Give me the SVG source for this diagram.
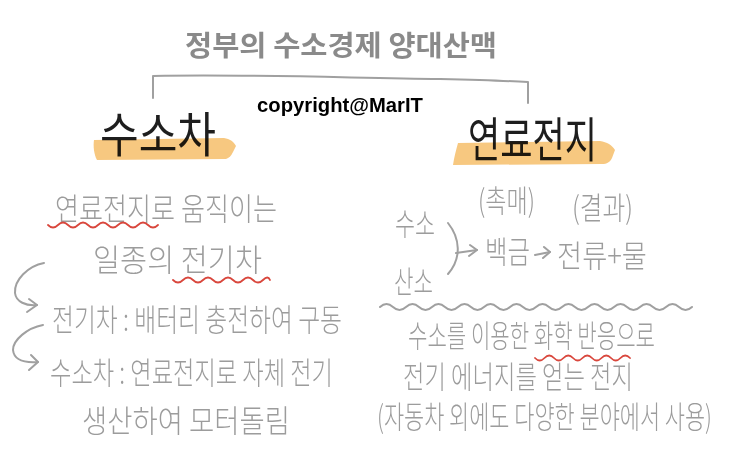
<svg xmlns="http://www.w3.org/2000/svg" width="751" height="464" viewBox="0 0 751 464">
<style>
.t{font-family:"Noto Sans CJK KR","Noto Sans",sans-serif;}
.title{font-weight:700;fill:#8a8a8a;font-size:28px;}
.head{font-weight:400;fill:#1e1e1e;font-size:48px;}
.hand{font-weight:300;fill:#9c9c9c;font-size:31px;}
.copy{font-family:"Liberation Sans",Arial,sans-serif;font-weight:700;font-size:20.5px;fill:#000;}
.ln{fill:none;stroke:#a0a0a0;stroke-width:2;stroke-linecap:round;stroke-linejoin:round;}
.red{fill:none;stroke:#d9473d;stroke-width:1.8;stroke-linecap:round;}
.hl{fill:#f7c880;mix-blend-mode:multiply;}
</style>
<rect width="751" height="464" fill="#fff"/>

<g id="title">
<text class="t title" x="185" y="56" textLength="312" lengthAdjust="spacingAndGlyphs">정부의 수소경제 양대산맥</text>
</g>

<g id="copyright">
<text class="copy" x="257" y="112" textLength="166" lengthAdjust="spacingAndGlyphs">copyright@MarIT</text>
</g>

<g id="connectors">
<path class="ln" d="M153,98 L153,76 C250,74 350,78 440,79 C480,80 510,81 528,82 L528,103" stroke="#a8a8a8"/>
<path class="ln" d="M44,263 C28,266 14,280 15,293 C16,302 26,306 37,305"/>
<path class="ln" d="M29,299 L37,305 L27,312"/>
<path class="ln" d="M43,325 C27,328 13,340 13,350 C14,360 24,363 38,362"/>
<path class="ln" d="M31,355 L38,362 L29,370"/>
<path class="ln" d="M448,223 C460,238 462,258 448,274"/>
<path class="ln" d="M456,253 L477,250"/>
<path class="ln" d="M470,245 L477,250 L469,256"/>
<path class="ln" d="M535,255 L550,252"/>
<path class="ln" d="M544,247 L550,252 L543,258"/>
<path class="ln" d="M380,307 q6.5,-6 13,0 t13,0 t13,0 t13,0 t13,0 t13,0 t13,0 t13,0 t13,0 t13,0 t13,0 t13,0 t13,0 t13,0 t13,0 t13,0 t13,0 t13,0 t13,0 t13,0 t13,0 t13,0 t13,0 t13,0"/>
</g>

<g id="node-hydrogen-car">
<text class="t head" x="100" y="152" textLength="116" lengthAdjust="spacingAndGlyphs">수소차</text>
<path class="hl" d="M94,140 L224,138 C230,139 233,141 236,146 L233,152 C231,156 229,158 226,159 L97,160 C94,155 93,146 94,140 Z"/>
</g>

<g id="node-fuel-cell">
<text class="t head" x="468" y="157" textLength="129" lengthAdjust="spacingAndGlyphs">연료전지</text>
<path class="hl" d="M458,143 L600,141 C607,142 612,145 615,150 L612,158 C610,162 607,164 602,164 L453,165 C454,158 456,150 458,143 Z"/>
</g>

<g id="hydrogen-car-desc">
<text class="t hand" x="55" y="220" font-size="32" textLength="222" lengthAdjust="spacingAndGlyphs">연료전지로 움직이는</text>
<path class="red" d="M48,225 q5,5 10,0 t10,0 t10,0 t10,0 t10,0 t10,0 t10,0 t10,0 t10,0 t10,0 t10,0"/>
<text class="t hand" x="93" y="271" font-size="32" textLength="169" lengthAdjust="spacingAndGlyphs">일종의 전기차</text>
<path class="red" d="M173,280 q5,5 10,0 t10,0 t10,0 t10,0 t10,0 t10,0 t10,0 t10,0 t10,0 t7,0"/>
<text class="t hand" x="52" y="331" textLength="290" lengthAdjust="spacingAndGlyphs">전기차 : 배터리 충전하여 구동</text>
<text class="t hand" x="50" y="384" textLength="283" lengthAdjust="spacingAndGlyphs">수소차 : 연료전지로 자체 전기</text>
<text class="t hand" x="82" y="432" font-size="33" textLength="208" lengthAdjust="spacingAndGlyphs">생산하여 모터돌림</text>
</g>

<g id="fuel-cell-desc">
<text class="t hand" x="395" y="235" textLength="40" lengthAdjust="spacingAndGlyphs">수소</text>
<text class="t hand" x="394" y="293" font-size="30" textLength="39" lengthAdjust="spacingAndGlyphs">산소</text>
<text class="t hand" x="478" y="212" font-size="27" textLength="57" lengthAdjust="spacingAndGlyphs">(촉매)</text>
<text class="t hand" x="572" y="219" font-size="29" textLength="61" lengthAdjust="spacingAndGlyphs">(결과)</text>
<text class="t hand" x="485" y="263" textLength="45" lengthAdjust="spacingAndGlyphs">백금</text>
<text class="t hand" x="557" y="267" font-size="34" textLength="90" lengthAdjust="spacingAndGlyphs">전류+물</text>
<text class="t hand" x="408" y="347" font-size="29" textLength="247" lengthAdjust="spacingAndGlyphs">수소를 이용한 화학 반응으로</text>
<path class="red" d="M535,358 q4.75,5 9.5,0 t9.5,0 t9.5,0 t9.5,0 t9.5,0 t9.5,0 t9.5,0 t9.5,0 t9.5,0 t9.5,0"/>
<text class="t hand" x="403" y="388" font-size="27" textLength="230" lengthAdjust="spacingAndGlyphs">전기 에너지를 얻는 전지</text>
<text class="t hand" x="377" y="428" font-size="24" textLength="335" lengthAdjust="spacingAndGlyphs">(자동차 외에도 다양한 분야에서 사용)</text>
</g>
</svg>
